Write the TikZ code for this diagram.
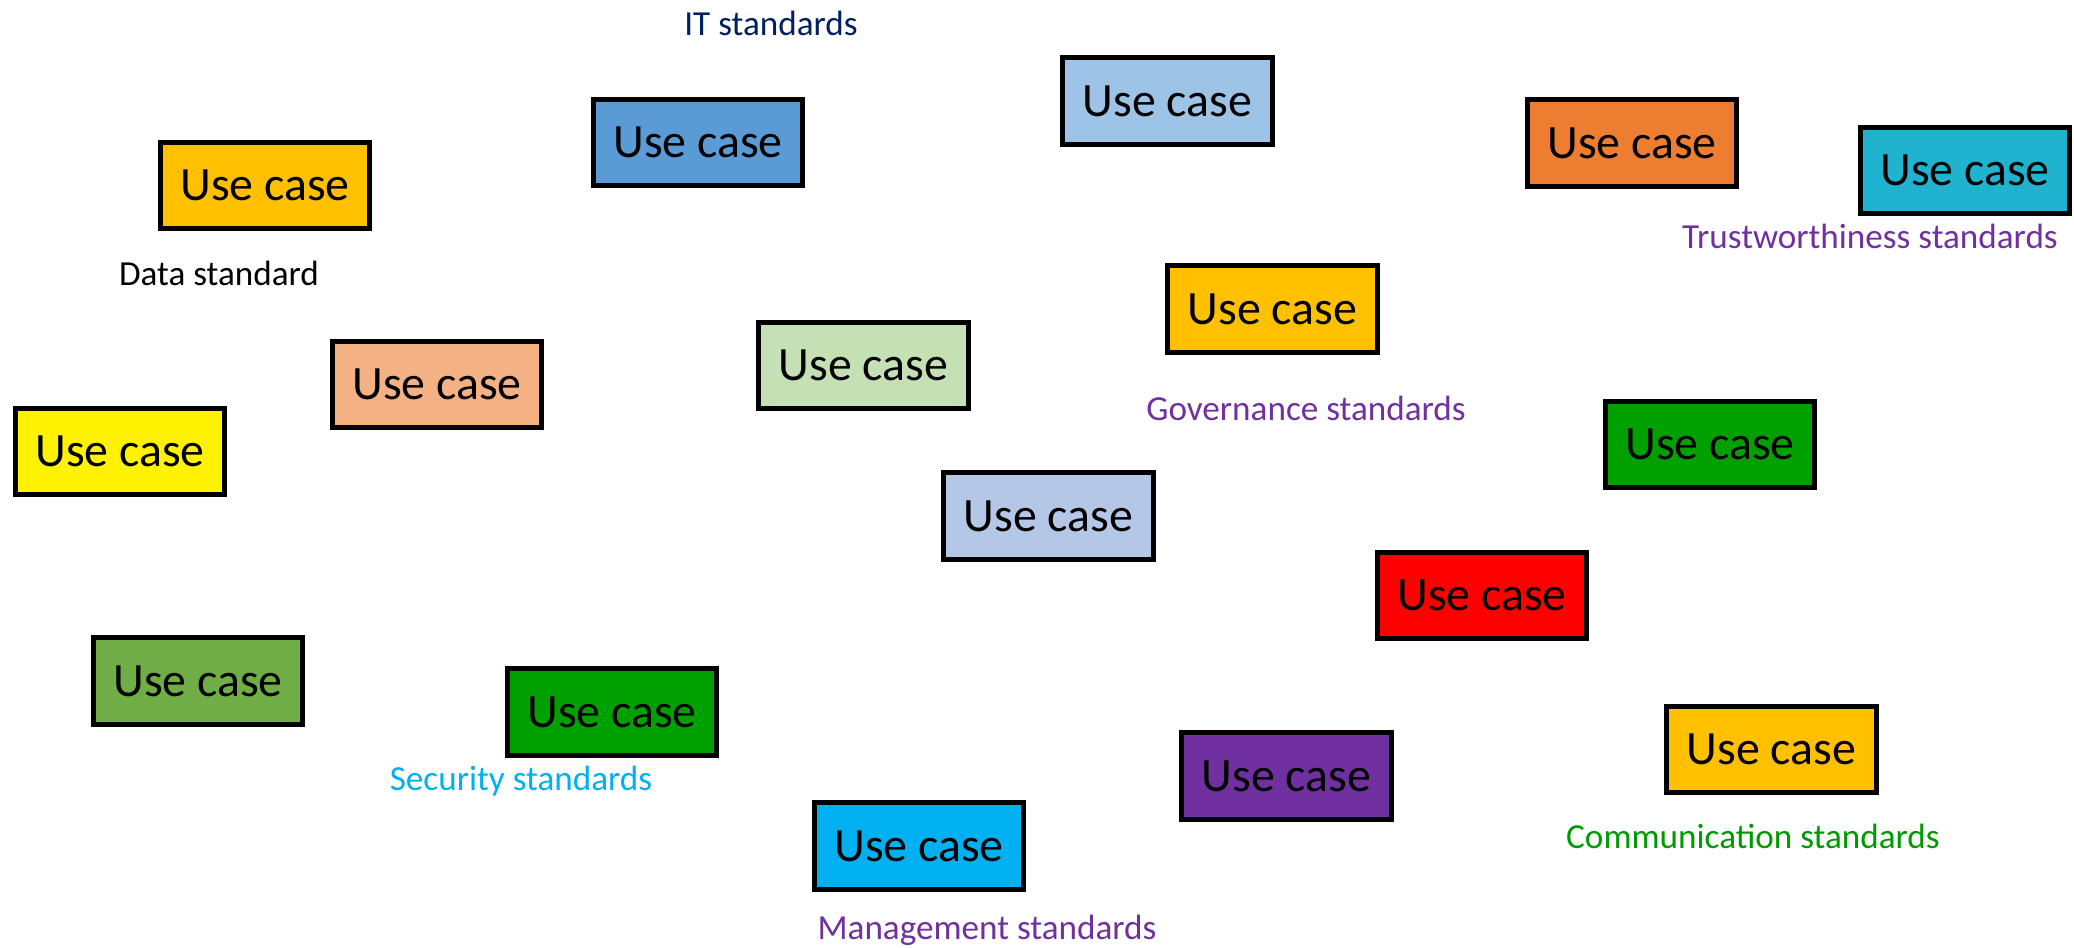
\documentclass[tikz,border=0pt]{standalone}
\usepackage{fontspec}
\setmainfont{Carlito}

\definecolor{gold}{HTML}{FFC000}
\definecolor{itblue}{HTML}{5B9BD5}
\definecolor{skyblue}{HTML}{9DC3E6}
\definecolor{darkorange}{HTML}{ED7D31}
\definecolor{teal}{HTML}{1FB3CF}
\definecolor{salmon}{HTML}{F4B183}
\definecolor{mint}{HTML}{C5E0B4}
\definecolor{leafgreen}{HTML}{00A000}
\definecolor{peri}{HTML}{B4C7E7}
\definecolor{olive}{HTML}{70AD47}
\definecolor{violet}{HTML}{7030A0}
\definecolor{cyan}{HTML}{00B0F0}
\definecolor{navy}{HTML}{002060}
\definecolor{commgreen}{HTML}{009A00}

\begin{document}
\begin{tikzpicture}[x=0.01cm,y=-0.01cm,
	usecase/.style={draw=black,line width=0.05cm,minimum width=2.09cm,minimum height=0.86cm,inner sep=0pt,font=\fontsize{13.6}{15}\selectfont},
	stdlabel/.style={anchor=base,inner sep=0pt,font=\fontsize{10}{12}\selectfont}]
			\useasboundingbox (0,0) rectangle (2074,947);
			
			\node[usecase,fill=gold] (dataCase) at (265,185.5) {Use case};
			\node[usecase,fill=itblue] (itCase) at (698,142.5) {Use case};
			\node[usecase,fill=skyblue] (skyCase) at (1167.5,101) {Use case};
			\node[usecase,fill=darkorange] (orangeCase) at (1632,143) {Use case};
			\node[usecase,fill=teal] (tealCase) at (1965,170.5) {Use case};
			\node[usecase,fill=gold] (govCase) at (1272.5,309) {Use case};
			\node[usecase,fill=salmon] (salmonCase) at (437,384.5) {Use case};
			\node[usecase,fill=mint] (mintCase) at (863.5,365.5) {Use case};
			\node[usecase,fill=yellow] (yellowCase) at (120,451.5) {Use case};
			\node[usecase,fill=leafgreen] (greenCase) at (1710,444.5) {Use case};
			\node[usecase,fill=peri] (periCase) at (1048.5,516) {Use case};
			\node[usecase,fill=red] (redCase) at (1482,595.5) {Use case};
			\node[usecase,fill=olive] (oliveCase) at (198,681) {Use case};
			\node[usecase,fill=leafgreen] (secCase) at (612,712) {Use case};
			\node[usecase,fill=violet] (purpleCase) at (1286.5,776) {Use case};
			\node[usecase,fill=gold] (commCase) at (1771.5,749.5) {Use case};
			\node[usecase,fill=cyan] (mgmtCase) at (919,846) {Use case};
			
			\node[stdlabel,text=navy] (itLbl) at (771,35) {IT standards};
			\node[stdlabel,text=black] (dataLbl) at (219,285) {Data standard};
			\node[stdlabel,text=violet] (trustLbl) at (1870,248) {Trustworthiness standards};
			\node[stdlabel,text=violet] (govLbl) at (1306,420) {Governance standards};
			\node[stdlabel,text=cyan] (secLbl) at (521,790) {Security standards};
			\node[stdlabel,text=commgreen] (commLbl) at (1753,848) {Communication standards};
			\node[stdlabel,text=violet] (mgmtLbl) at (987,939) {Management standards};
			\end{tikzpicture}
\end{document}
